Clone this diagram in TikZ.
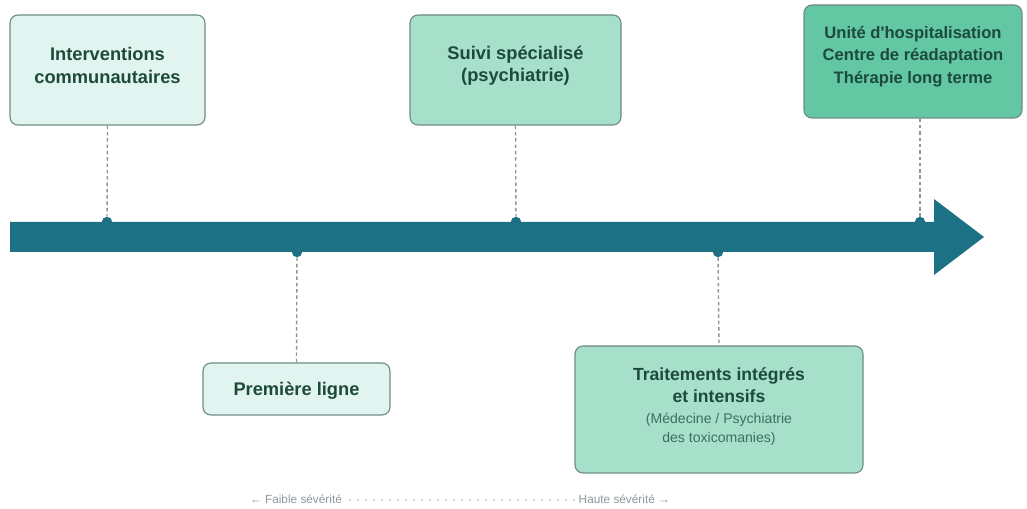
\documentclass[tikz,border=0pt]{standalone}
\usepackage{fontspec}
\setmainfont{Liberation Sans}[Ligatures=TeXOff]
\usetikzlibrary{arrows.meta,calc}
\usepackage{xcolor}
\definecolor{axis}{HTML}{1C7184}
\definecolor{level1}{HTML}{E2F4EF}
\definecolor{level2}{HTML}{A6DFCA}
\definecolor{level3}{HTML}{62C7A2}
\definecolor{edge}{HTML}{6E8C85}
\definecolor{ink}{HTML}{1C4A3C}
\definecolor{note}{HTML}{3F6E60}
\definecolor{guide}{HTML}{8D979B}
\newcommand{\subnote}[1]{{\fontsize{10}{13.5}\selectfont\mdseries\color{note}#1}}
\newcommand{\sevdots}{\leaders\hbox to 0.2cm{\hss·\hss}\hfill}

\begin{document}
\begin{tikzpicture}[
  box/.style={draw=edge,line width=0.8pt,rounded corners=0.2cm},
  title/.style={align=center,text=ink,font=\fontsize{#1}{16}\selectfont\bfseries},
  title/.default=13,
  tick/.style={circle,fill=axis,inner sep=0pt,minimum size=0.26cm},
  guideline/.style={guide,line width=1pt,dash pattern=on 2.5pt off 2pt},
]
  \useasboundingbox (0,0) rectangle (25.675,12.725);

  % Axis
  \fill[axis] (0.25,7.175) -- (23.35,7.175) -- (23.35,7.75) -- (24.6,6.8)
    -- (23.35,5.85) -- (23.35,6.425) -- (0.25,6.425) -- cycle;

  % Ticks on the axis
  \node[tick] (t1) at (2.675,7.175) {};
  \node[tick] (t2) at (7.425,6.425) {};
  \node[tick] (t3) at (12.9,7.175) {};
  \node[tick] (t4) at (17.95,6.425) {};
  \node[tick] (t5) at (23.0,7.175) {};

  % Boxes above
  \node[box,fill=level1,minimum width=4.875cm,minimum height=2.75cm,
    label={[title,yshift=0.11cm]center:Interventions\\communautaires}] (comm) at (2.6875,10.975) {};
  \node[box,fill=level2,minimum width=5.275cm,minimum height=2.75cm,
    label={[title,yshift=0.11cm]center:Suivi spécialisé\\(psychiatrie)}] (suivi) at (12.8875,10.975) {};
  \node[box,fill=level3,minimum width=5.45cm,minimum height=2.825cm,
    label={[title=11.8,yshift=0.13cm]center:Unité d'hospitalisation\\Centre de réadaptation\\Thérapie long terme}] (hosp) at (22.825,11.1875) {};

  % Boxes below
  \node[box,fill=level1,minimum width=4.675cm,minimum height=1.3cm,
    label={[title,yshift=-0.05cm]center:Première ligne}] (prem) at (7.4125,3.0) {};
  \node[box,fill=level2,minimum width=7.2cm,minimum height=3.175cm,
    label={[title=12.5,yshift=0.08cm]center:Traitements intégrés\\et intensifs\\[-1pt]\subnote{(Médecine / Psychiatrie}\\[-2.5pt]\subnote{des toxicomanies)}}] (trait) at (17.975,2.4875) {};

  % Guides
  \draw[guideline] (comm.south) -- (t1);
  \draw[guideline] (suivi.south) -- (t3);
  \draw[guideline] (hosp.south -| t5) -- (t5);
  \draw[guideline] (t2) -- (prem.north);
  \draw[guideline] (t4) -- (trait.north);

  % Severity scale
  \node[text=guide,font=\fontsize{8.4}{10}\selectfont,inner sep=0pt] (scale) at (11.5,0.25)
    {\makebox[10.5cm]{← Faible sévérité\sevdots Haute sévérité →}};
\end{tikzpicture}
\end{document}
